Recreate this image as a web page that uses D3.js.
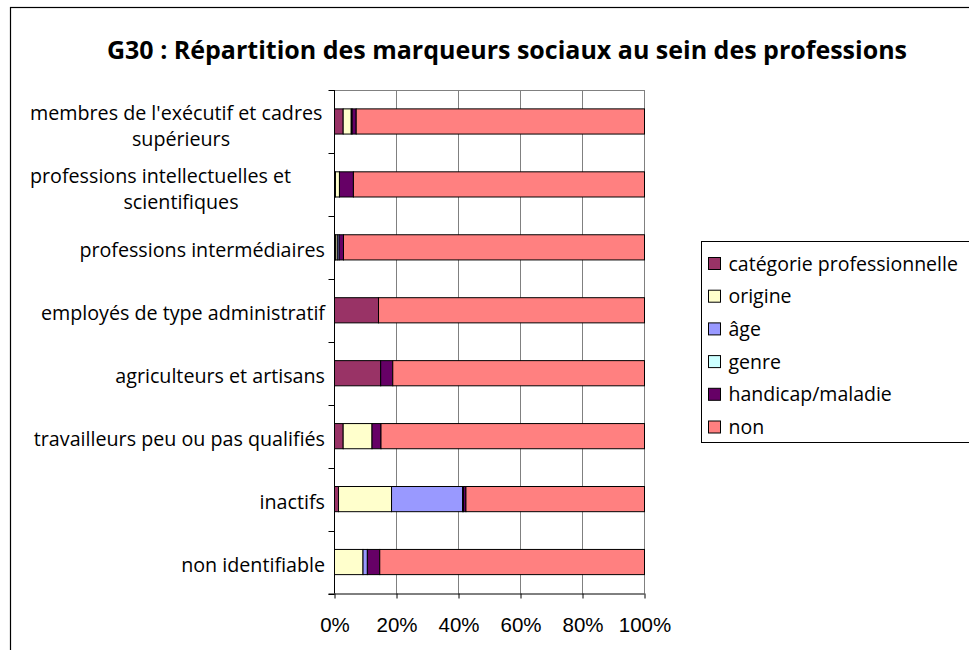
<!DOCTYPE html>
<html>
<head>
<meta charset="utf-8">
<script src="https://cdn.jsdelivr.net/npm/d3@7"></script>
<style>
  body { margin: 0; background: #fff; }
  svg { display: block; }
</style>
</head>
<body>
<svg id="chart" width="969" height="650"></svg>
<script>
// data (percent of each profession)
const categories = [
  "membres de l'exécutif et cadres supérieurs",
  "professions intellectuelles et scientifiques",
  "professions intermédiaires",
  "employés de type administratif",
  "agriculteurs et artisans",
  "travailleurs peu ou pas qualifiés",
  "inactifs",
  "non identifiable"
];
// how each label is wrapped
const categoryLines = [
  ["membres de l'exécutif et cadres", "supérieurs"],
  ["professions intellectuelles et", "scientifiques"],
  ["professions intermédiaires"],
  ["employés de type administratif"],
  ["agriculteurs et artisans"],
  ["travailleurs peu ou pas qualifiés"],
  ["inactifs"],
  ["non identifiable"]
];
const seriesNames = ["catégorie professionnelle", "origine", "âge", "genre", "handicap/maladie", "non"];
const categorieProfessionnelle = [2.8, 0.3, 0.3, 14.2, 14.9, 2.8, 1.3, 0];
const origine = [2.6, 1.3, 0.6, 0, 0, 9.3, 17.1, 9.2];
const age = [0.3, 0, 0.6, 0, 0, 0, 22.9, 1.4];
const genre = [0, 0, 0, 0, 0, 0, 0.3, 0];
const handicap = [1.3, 4.5, 1.4, 0, 3.9, 2.9, 0.8, 4.0];
const non = [93.0, 93.9, 97.1, 85.8, 81.2, 85.0, 57.6, 85.4];
const xTicks = [0, 0.2, 0.4, 0.6, 0.8, 1];

const colors = ["#993366", "#ffffcc", "#9999ff", "#ccffff", "#660066", "#ff8080"];
const labelFont = "'Open Sans', sans-serif";

const seriesValues = [categorieProfessionnelle, origine, age, genre, handicap, non];
const rows = categories.map((c, i) => {
  const r = {cat: c};
  seriesNames.forEach((s, j) => r[s] = seriesValues[j][i]);
  return r;
});

const svg = d3.select("#chart");

// outer frame
svg.append("rect")
  .attr("x", 10.5).attr("y", 7.5)
  .attr("width", 1000).attr("height", 1000)
  .attr("fill", "none").attr("stroke", "#000").attr("stroke-width", 1.2);

svg.append("text")
  .attr("x", 507).attr("y", 59)
  .attr("text-anchor", "middle")
  .attr("font-family", labelFont)
  .attr("font-weight", "bold")
  .attr("font-size", 25)
  .text("G30 : Répartition des marqueurs sociaux au sein des professions");

const x = d3.scaleLinear().domain([0, 1]).range([334.5, 644.5]);
const y = d3.scaleBand().domain(categories).range([90, 593.5])
  .paddingInner(0.6).paddingOuter(0.3);

const stacked = d3.stack().keys(seriesNames).offset(d3.stackOffsetExpand)(rows);

// grid
svg.append("g").selectAll("line")
  .data(xTicks.slice(1))
  .join("line")
  .attr("x1", d => x(d)).attr("x2", d => x(d))
  .attr("y1", 90).attr("y2", 593.5)
  .attr("stroke", "#808080").attr("stroke-width", 1);
svg.append("line")
  .attr("x1", x(0)).attr("x2", x(1))
  .attr("y1", 90.5).attr("y2", 90.5)
  .attr("stroke", "#808080");

// bars
svg.append("g").selectAll("g")
  .data(stacked)
  .join("g")
  .attr("fill", (d, i) => colors[i])
  .selectAll("rect")
  .data(d => d.filter(p => p[1] - p[0] > 0))
  .join("rect")
  .attr("x", d => x(d[0]))
  .attr("y", d => y(d.data.cat))
  .attr("width", d => x(d[1]) - x(d[0]))
  .attr("height", y.bandwidth())
  .attr("stroke", "#000").attr("stroke-width", 1);

// x axis
const xAxis = svg.append("g")
  .attr("transform", "translate(0,593.5)")
  .call(d3.axisBottom(x).tickValues(xTicks).tickFormat(d3.format(".0%"))
    .tickSize(5).tickPadding(19).tickSizeOuter(0));
xAxis.select(".domain").attr("stroke", "#000").attr("d", `M${x(0) - 6},0.5H${x(1)}`);
xAxis.selectAll(".tick line").attr("stroke", "#000");
xAxis.selectAll("text")
  .attr("font-family", "'Liberation Sans', Arial, sans-serif")
  .attr("font-size", 20.5).attr("fill", "#000");

// y axis: line + ticks at band boundaries
const step = y.step();
const gap = step - y.bandwidth();
const bounds = categories.map(c => y(c) - gap / 2).concat([y(categories[categories.length - 1]) + y.bandwidth() + gap / 2]);
svg.append("line")
  .attr("x1", x(0)).attr("x2", x(0))
  .attr("y1", 90).attr("y2", 593.5)
  .attr("stroke", "#000");
svg.append("g").selectAll("line")
  .data(bounds)
  .join("line")
  .attr("x1", x(0) - 6).attr("x2", x(0))
  .attr("y1", d => Math.round(d) + 0.5).attr("y2", d => Math.round(d) + 0.5)
  .attr("stroke", "#000");

// category labels
const labels = svg.append("g")
  .attr("font-family", labelFont)
  .attr("font-size", 19.7)
  .attr("fill", "#000");
categories.forEach((c, i) => {
  const lines = categoryLines[i];
  const cy = y(c) + y.bandwidth() / 2;
  if (lines.length === 1) {
    labels.append("text")
      .attr("x", 325).attr("y", cy + 10)
      .attr("text-anchor", "end")
      .text(lines[0]);
  } else {
    // first line flush left, second line centred under the block
    labels.append("text")
      .attr("x", 30).attr("y", cy - 1)
      .attr("text-anchor", "start")
      .text(lines[0]);
    labels.append("text")
      .attr("x", 181).attr("y", cy + 25)
      .attr("text-anchor", "middle")
      .text(lines[1]);
  }
});

// legend
const legend = svg.append("g").attr("transform", "translate(701.5,241.5)");
legend.append("rect")
  .attr("width", 400).attr("height", 201)
  .attr("fill", "#fff").attr("stroke", "#000");
const item = legend.selectAll("g.item")
  .data(seriesNames)
  .join("g")
  .attr("class", "item")
  .attr("transform", (d, i) => `translate(0,${22 + i * 32.7})`);
item.append("rect")
  .attr("x", 7).attr("y", -6)
  .attr("width", 12).attr("height", 12)
  .attr("fill", (d, i) => colors[i])
  .attr("stroke", "#000");
item.append("text")
  .attr("x", 27).attr("y", 7)
  .attr("font-family", labelFont)
  .attr("font-size", 19.5)
  .text(d => d);
</script>
</body>
</html>
